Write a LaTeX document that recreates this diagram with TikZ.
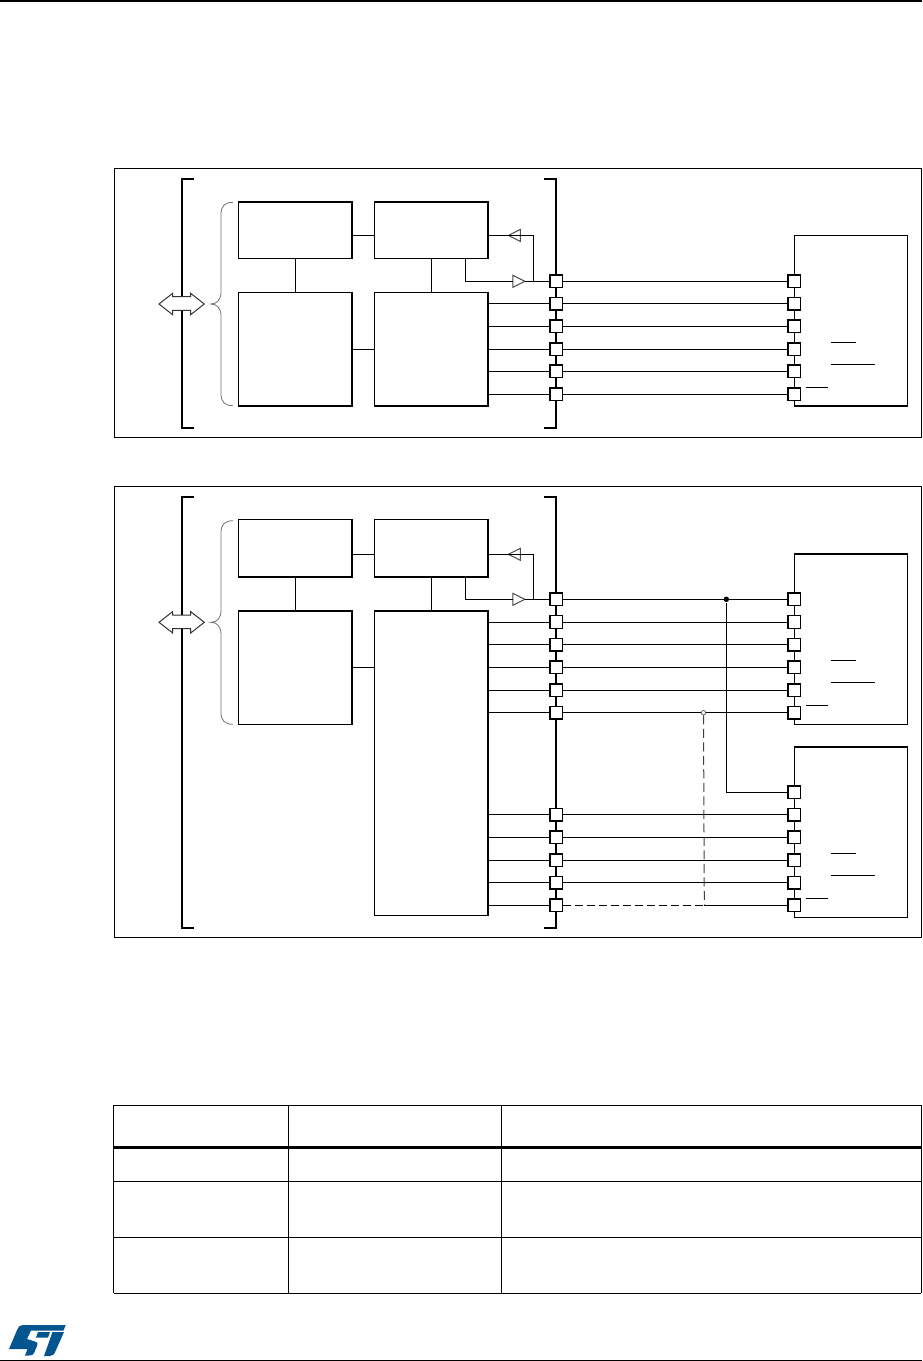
\documentclass[tikz,border=0pt]{standalone}
\usepackage{xcolor}
\usepackage{tikz}
\usetikzlibrary{positioning,arrows.meta,shapes.geometric}
\definecolor{logoblue}{HTML}{03558F}

\begin{document}
\begin{tikzpicture}[
  x=1pt, y=-1pt, line width=1pt, line join=miter,
  frame/.style={draw, line width=0.9pt, inner sep=0, outer sep=0},
  blk/.style={draw, line width=1.4pt, fill=white, inner sep=0, outer sep=0, minimum width=113.7pt},
  dev/.style={draw, line width=1.3pt, fill=white, inner sep=0, outer sep=0, minimum width=113pt, minimum height=170.3pt},
  pad/.style={draw, line width=1.3pt, fill=white, inner sep=0, outer sep=0, minimum size=12.5pt},
  buf/.style={draw=black!70, line width=1pt, fill=white, isosceles triangle, isosceles triangle stretches,
              inner sep=0, outer sep=0, minimum width=12pt, minimum height=12pt},
  dbl/.style={draw=black!80, line width=1pt, fill=white},
  dot/.style={circle, fill=black, inner sep=0, minimum size=5.5pt},
  odot/.style={circle, draw=black!60, line width=0.8pt, fill=white, inner sep=0, minimum size=4.5pt},
  bus/.style={line width=1.7pt},
  bar/.style={line width=1pt},
  curly/.style={draw=black!55, line width=0.8pt},
  trace/.style={line width=1pt},
  gridline/.style={line width=1pt},
]
\useasboundingbox (0,0) rectangle (922,1361);

% page rules
\draw[line width=1.4pt] (0,1) -- (922,1);
\draw[line width=1.2pt] (0,1360.5) -- (922,1360.5);

% upper picture
\node[frame, minimum width=806.5pt, minimum height=269pt] (frameA) at (517.75,303) {};
\draw[bus] (194,179) -- (182,179) -- (182,427.7) -- (194,427.7);
\draw[bus] (544,179) -- (555.7,179) -- (555.7,427.7) -- (544,427.7);
\draw[dbl, shift={(181.65,304)}] (-22.65,0) -- (-9,-10.7) -- (-9,-7.3) -- (9,-7.3) -- (9,-10.7) -- (22.65,0)
  -- (9,10.7) -- (9,6.3) -- (-9,6.3) -- (-9,10.7) -- cycle;
\draw[curly] (233,202.3) .. controls (225,202.3) and (221,206) .. (221,214) -- (221,292)
  .. controls (221,300) and (217,304) .. (210.7,304) .. controls (217,304) and (221,308) .. (221,316)
  -- (221,394) .. controls (221,402) and (225,405.7) .. (233,405.7);

\node[blk, minimum height=56.3pt] (regA) at (295.15,230.15) {};
\node[blk, minimum height=56.3pt] (clkA) at (431.15,230.15) {};
\node[blk, minimum height=113.7pt] (fifoA) at (295.15,349.15) {};
\node[blk, minimum height=113.7pt] (shiftA) at (431.15,349.15) {};
\draw[trace] ([yshift=-5.2pt]regA.east) -- ([yshift=-5.2pt]clkA.west);
\draw[trace] (regA) -- (fifoA);
\draw[trace] (clkA) -- (shiftA);
\draw[trace] (fifoA) -- (shiftA);

\node[dev] (flashA) at (850.8,320.85) {};

\node[pad] (la1) at (556.3,281.3) {};
\node[pad] (la2) at (556.3,303.8) {};
\node[pad] (la3) at (556.3,326.3) {};
\node[pad] (la4) at (556.3,349.3) {};
\node[pad] (la5) at (556.3,371.3) {};
\node[pad] (la6) at (556.3,394.3) {};
\node[pad] (ra1) at (794.3,281.3) {};
\node[pad] (ra2) at (794.3,303.8) {};
\node[pad] (ra3) at (794.3,326.3) {};
\node[pad] (ra4) at (794.3,349.3) {};
\node[pad] (ra5) at (794.3,371.3) {};
\node[pad] (ra6) at (794.3,394.3) {};
\draw[trace] (la1) -- (ra1);
\draw[trace] (la2) -- (ra2);
\draw[trace] (la3) -- (ra3);
\draw[trace] (la4) -- (ra4);
\draw[trace] (la5) -- (ra5);
\draw[trace] (la6) -- (ra6);
\draw[trace] (shiftA.east |- la2) -- (la2);
\draw[trace] (shiftA.east |- la3) -- (la3);
\draw[trace] (shiftA.east |- la4) -- (la4);
\draw[trace] (shiftA.east |- la5) -- (la5);
\draw[trace] (shiftA.east |- la6) -- (la6);

\node[buf, shape border rotate=180] (inA) at (516.7,235.4) {};
\node[buf] (outA) at (516.5,281.3) {};
\coordinate (tapA) at (533.3,281.3);
\draw[trace] (clkA.east |- inA) -- (inA.east);
\draw[trace] (inA.west) -| (tapA);
\draw[trace] (outA.east) -- (la1);
\draw[trace] (outA.west) -| (465.3,258.3);

\draw[bar] (831,342.3) -- (856,342.3);
\draw[bar] (831,364.3) -- (875.3,364.3);
\draw[bar] (806.3,387) -- (827.7,387);

% lower picture
\node[frame, minimum width=806.5pt, minimum height=451pt] (frameB) at (517.75,711.7) {};
\draw[bus] (194,497.3) -- (182,497.3) -- (182,928.3) -- (194,928.3);
\draw[bus] (544,497.3) -- (555.7,497.3) -- (555.7,928.3) -- (544,928.3);
\draw[dbl, shift={(181.65,622.3)}] (-22.65,0) -- (-9,-10.7) -- (-9,-7.3) -- (9,-7.3) -- (9,-10.7) -- (22.65,0)
  -- (9,10.7) -- (9,6.3) -- (-9,6.3) -- (-9,10.7) -- cycle;
\draw[curly] (233,520.7) .. controls (225,520.7) and (221,524.4) .. (221,532.4) -- (221,610.3)
  .. controls (221,618.3) and (217,622.3) .. (210.7,622.3) .. controls (217,622.3) and (221,626.3) .. (221,634.3)
  -- (221,712.6) .. controls (221,720.6) and (225,724.3) .. (233,724.3);

\node[blk, minimum height=57.3pt] (regB) at (295.15,548.35) {};
\node[blk, minimum height=57.3pt] (clkB) at (431.15,548.35) {};
\node[blk, minimum height=113.3pt] (fifoB) at (295.15,667.65) {};
\node[blk, minimum height=304.5pt] (shiftB) at (431.15,763.25) {};
\draw[trace] ([yshift=-6pt]regB.east) -- ([yshift=-6pt]clkB.west);
\draw[trace] (regB) -- (fifoB);
\draw[trace] (clkB) -- (clkB |- shiftB.north);
\draw[trace] (fifoB) -- (fifoB -| shiftB.west);

\node[dev] (flashB) at (850.8,639) {};
\node[dev] (flashC) at (850.8,832) {};

\node[pad] (lb1) at (556.3,599.3) {};
\node[pad] (lb2) at (556.3,622) {};
\node[pad] (lb3) at (556.3,644.7) {};
\node[pad] (lb4) at (556.3,667.3) {};
\node[pad] (lb5) at (556.3,690.3) {};
\node[pad] (lb6) at (556.3,712.7) {};
\node[pad] (lc2) at (556.3,814.7) {};
\node[pad] (lc3) at (556.3,837.3) {};
\node[pad] (lc4) at (556.3,860.3) {};
\node[pad] (lc5) at (556.3,882.7) {};
\node[pad] (lc6) at (556.3,905.3) {};
\node[pad] (rb1) at (794.3,599.3) {};
\node[pad] (rb2) at (794.3,622) {};
\node[pad] (rb3) at (794.3,644.7) {};
\node[pad] (rb4) at (794.3,667.3) {};
\node[pad] (rb5) at (794.3,690.3) {};
\node[pad] (rb6) at (794.3,712.7) {};
\node[pad] (rc1) at (794.3,792.3) {};
\node[pad] (rc2) at (794.3,814.7) {};
\node[pad] (rc3) at (794.3,837.3) {};
\node[pad] (rc4) at (794.3,860.3) {};
\node[pad] (rc5) at (794.3,882.7) {};
\node[pad] (rc6) at (794.3,905.3) {};
\draw[trace] (lb1) -- (rb1);
\draw[trace] (lb2) -- (rb2);
\draw[trace] (lb3) -- (rb3);
\draw[trace] (lb4) -- (rb4);
\draw[trace] (lb5) -- (rb5);
\draw[trace] (lb6) -- (rb6);
\draw[trace] (lc2) -- (rc2);
\draw[trace] (lc3) -- (rc3);
\draw[trace] (lc4) -- (rc4);
\draw[trace] (lc5) -- (rc5);
\draw[trace] (shiftB.east |- lb2) -- (lb2);
\draw[trace] (shiftB.east |- lb3) -- (lb3);
\draw[trace] (shiftB.east |- lb4) -- (lb4);
\draw[trace] (shiftB.east |- lb5) -- (lb5);
\draw[trace] (shiftB.east |- lb6) -- (lb6);
\draw[trace] (shiftB.east |- lc2) -- (lc2);
\draw[trace] (shiftB.east |- lc3) -- (lc3);
\draw[trace] (shiftB.east |- lc4) -- (lc4);
\draw[trace] (shiftB.east |- lc5) -- (lc5);
\draw[trace] (shiftB.east |- lc6) -- (lc6);

\node[buf, shape border rotate=180] (inB) at (516.7,554.3) {};
\node[buf] (outB) at (516.5,599.3) {};
\coordinate (tapB) at (533.3,599.3);
\draw[trace] (clkB.east |- inB) -- (inB.east);
\draw[trace] (inB.west) -| (tapB);
\draw[trace] (outB.east) -- (lb1);
\draw[trace] (outB.west) -| (465.3,577);

\node[dot] (joinB) at (726.3,599.3) {};
\draw[trace] (joinB) |- (rc1);
\node[odot] (tieB) at (703.5,712.7) {};
\coordinate (cornerB) at (704.3,905.3);
\draw[trace, dash pattern=on 9pt off 4.5pt, draw=black!75] (tieB) -- (cornerB);
\draw[trace, dash pattern=on 8pt off 4pt] (lc6) -- (cornerB);
\draw[trace] (cornerB) -- (rc6);

\draw[bar] (831,660.3) -- (856,660.3);
\draw[bar] (831,682.3) -- (875.3,682.3);
\draw[bar] (806.3,705) -- (827.7,705);
\draw[bar] (831,853.3) -- (856,853.3);
\draw[bar] (831,875.3) -- (875.3,875.3);
\draw[bar] (806.3,898.3) -- (827.7,898.3);

% empty table
\draw[gridline] (113.5,1105.3) -- (921,1105.3);
\draw[line width=3pt] (113.5,1147.3) -- (921,1147.3);
\draw[gridline] (113.5,1181.3) -- (921,1181.3);
\draw[gridline] (113.5,1237.3) -- (921,1237.3);
\draw[gridline] (113.5,1293.3) -- (921,1293.3);
\draw[gridline] (113.5,1105.3) -- (113.5,1293.3);
\draw[gridline] (288.7,1105.3) -- (288.7,1293.3);
\draw[gridline] (501.5,1105.3) -- (501.5,1293.3);
\draw[gridline] (921,1105.3) -- (921,1293.3);

% logo
\fill[logoblue] (9,1349) -- (17.5,1329) .. controls (18.5,1326.5) and (20,1325) .. (23,1325) -- (65.7,1325) -- (63.5,1330.5)
  -- (31,1330.5) -- (27,1339) -- (35,1341.5) .. controls (38,1342.5) and (38,1344) .. (37,1346)
  -- (34,1353) .. controls (33,1355) and (31.5,1355.5) .. (29,1355.5) -- (25,1355.5) -- (27.5,1349) -- cycle;
\fill[logoblue] (38,1332) -- (50,1332) -- (48,1337.5) -- (36,1337.5) -- cycle;
\fill[logoblue] (52.5,1332) -- (64,1332) -- (56,1350) .. controls (54.5,1354) and (53,1356) .. (50,1356) -- (44,1356) -- cycle;
\end{tikzpicture}
\end{document}
